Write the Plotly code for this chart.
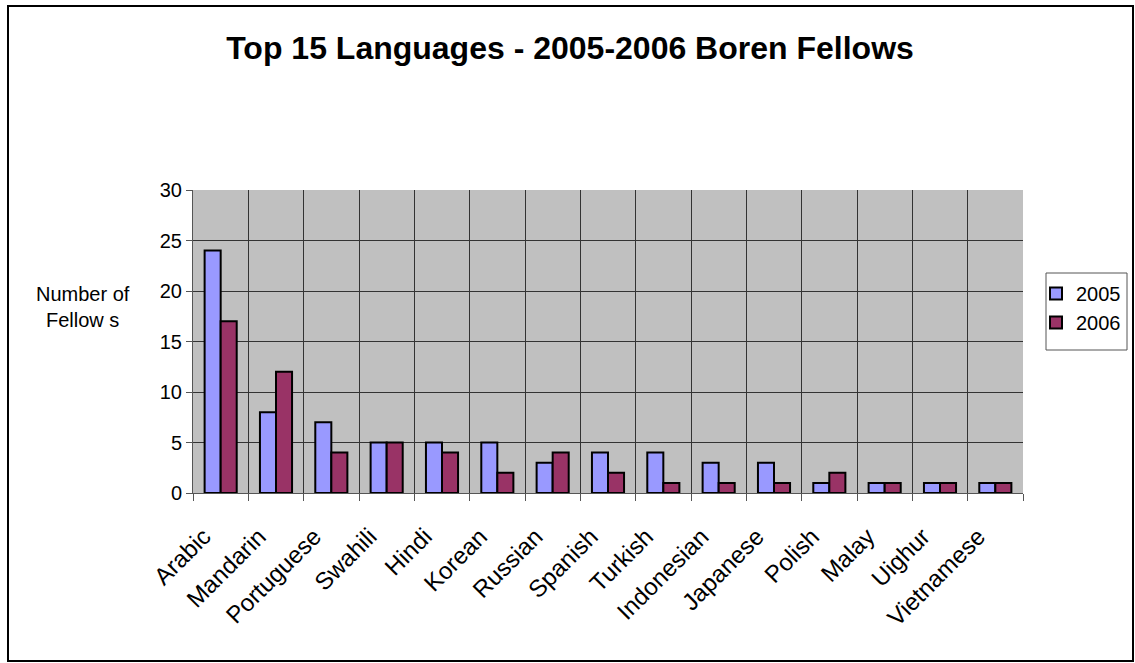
import plotly.graph_objects as go

languages = ["Arabic", "Mandarin", "Portuguese", "Swahili", "Hindi", "Korean", "Russian",
             "Spanish", "Turkish", "Indonesian", "Japanese", "Polish", "Malay", "Uighur", "Vietnamese"]
fellows_2005 = [24, 8, 7, 5, 5, 5, 3, 4, 4, 3, 3, 1, 1, 1, 1]
fellows_2006 = [17, 12, 4, 5, 4, 2, 4, 2, 1, 1, 1, 2, 1, 1, 1]
y_ticks = [0, 5, 10, 15, 20, 25, 30]

W, H = 1135, 663
# plot area in pixel coords
PX0, PX1, PY0, PY1 = 193, 1023, 190, 493
L, R, T, B = PX0, W - PX1, PY0, H - PY1
pw, ph = PX1 - PX0, PY1 - PY0

def px_x(p):
    return (p - PX0) / pw

def px_y(p):
    return (PY1 - p) / ph

fig = go.Figure()
fig.add_trace(go.Bar(x=languages, y=fellows_2005, name="2005", legendgroup="a",
                     marker=dict(color="#9999FF", line=dict(color="black", width=2))))
fig.add_trace(go.Bar(x=languages, y=fellows_2006, name="2006", legendgroup="b",
                     marker=dict(color="#993366", line=dict(color="black", width=2))))

fig.update_layout(
    width=W, height=H,
    margin=dict(l=L, r=R, t=T, b=B, autoexpand=False),
    paper_bgcolor="white",
    plot_bgcolor="#C0C0C0",
    barmode="group", bargap=0.42, bargroupgap=0,
    font=dict(family="Arial, Liberation Sans", size=20, color="black"),
    title=dict(text="<b>Top 15 Languages - 2005-2006 Boren Fellows</b>",
               x=px_x(570), xanchor="center", y=1 - 48 / H, yanchor="middle",
               xref="paper", font=dict(size=32)),
    showlegend=True,
    legend=dict(x=px_x(1036), y=px_y(274), xanchor="left", yanchor="top",
                borderwidth=0, bgcolor="rgba(0,0,0,0)",
                font=dict(size=20), itemsizing="constant", tracegroupgap=23,
                traceorder="normal"),
    xaxis=dict(type="category", tickson="boundaries", showgrid=True, gridcolor="#333",
               gridwidth=1, ticks="outside", ticklen=7, tickcolor="#555",
               showline=True, linecolor="#555", tickangle=-45,
               ticklabelstandoff=19, ticklabelshift=-17,
               tickfont=dict(size=24)),
    yaxis=dict(range=[0, 30], tickvals=y_ticks, showgrid=True, gridcolor="#333",
               gridwidth=1, ticks="outside", ticklen=6, tickcolor="#555",
               showline=True, linecolor="#555", zeroline=False,
               tickfont=dict(size=20)),
)

fig.add_annotation(text="Number of<br>Fellow s", xref="paper", yref="paper",
                   x=px_x(83), y=px_y(307), xanchor="center", yanchor="middle",
                   showarrow=False, font=dict(size=20), align="center")

# legend frame
fig.add_shape(type="rect", xref="paper", yref="paper",
              x0=px_x(1046), x1=px_x(1127), y0=px_y(350), y1=px_y(273),
              line=dict(color="#555", width=1), fillcolor="rgba(0,0,0,0)", layer="above")

# outer chart border
fig.add_shape(type="rect", xref="paper", yref="paper",
              x0=px_x(8), x1=px_x(1133), y0=px_y(661), y1=px_y(6),
              line=dict(color="black", width=2), fillcolor="rgba(0,0,0,0)", layer="above")

fig.write_html("out.html", config={"displayModeBar": False},
               post_script="document.body.style.margin='0';document.body.style.overflow='hidden';")
